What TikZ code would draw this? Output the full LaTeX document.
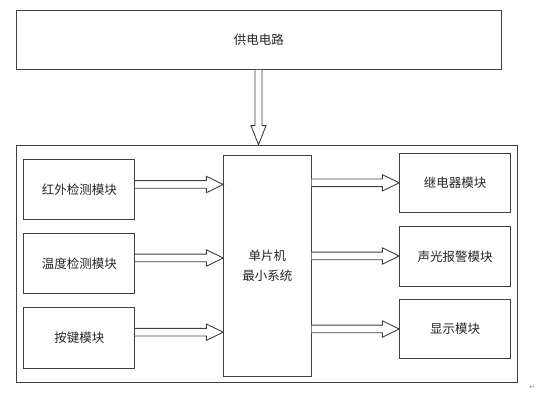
\documentclass[tikz,border=0pt]{standalone}
\usepackage{fontspec}
\newfontfamily\cjk{Noto Sans CJK SC}
\newfontfamily\dejavu{DejaVu Sans}
\usetikzlibrary{calc}
\tikzset{
  boxline/.style={draw=black!75, line width=0.9pt},
  blk/.style={boxline, fill=white, inner sep=0pt, font=\cjk\fontsize{12.5}{20}\selectfont, text=black!85},
  arr/.style={draw=black!75, line width=0.9pt, fill=white, line join=miter},
}
\newcommand\harrow[2]{%
  \draw[arr] let \p1=(#1), \p2=(#2) in
    (\x1,\y1+3.8pt) -- (\x2-17pt,\y1+3.8pt) -- (\x2-17pt,\y1+8.2pt) -- (\x2,\y1)
    -- (\x2-17pt,\y1-8.2pt) -- (\x2-17pt,\y1-3.8pt) -- (\x1,\y1-3.8pt);}
\begin{document}
\begin{tikzpicture}[x=1pt,y=-1pt]
\useasboundingbox (0,0) rectangle (539,393);
% outer frame and power box
\node[blk, minimum width=485pt, minimum height=59pt, anchor=north west] (pwr) at (16,10) {供电电路};
\node[boxline, minimum width=500.7pt, minimum height=237.6pt, anchor=north west, inner sep=0pt] (frame) at (16,144.7) {};
% left modules
\node[blk, minimum width=111pt, minimum height=60pt, anchor=north west] (ir) at (23.3,159.3) {红外检测模块};
\node[blk, minimum width=111pt, minimum height=60pt, anchor=north west] (tmp) at (23.3,233.3) {温度检测模块};
\node[blk, minimum width=111pt, minimum height=60pt, anchor=north west] (key) at (23.3,307.5) {按键模块};
% MCU
\node[blk, minimum width=87.4pt, minimum height=221.3pt, anchor=north west, align=center] (mcu) at (223.3,154.7) {单片机\\最小系统};
% right modules
\node[blk, minimum width=110.7pt, minimum height=59.6pt, anchor=north west] (rel) at (399.3,152.7) {继电器模块};
\node[blk, minimum width=110.7pt, minimum height=60pt, anchor=north west] (alm) at (399.3,226) {声光报警模块};
\node[blk, minimum width=110.7pt, minimum height=59.3pt, anchor=north west] (dsp) at (399.3,299) {显示模块};
% arrow anchor coordinates
\coordinate (a1s) at (ir.east |- 0,184.5);  \coordinate (a1e) at (mcu.west |- 0,184.5);
\coordinate (a2s) at (tmp.east |- 0,258);   \coordinate (a2e) at (mcu.west |- 0,258);
\coordinate (a3s) at (key.east |- 0,332.2); \coordinate (a3e) at (mcu.west |- 0,332.2);
\coordinate (b1s) at (mcu.east |- 0,182.8); \coordinate (b1e) at (rel.west |- 0,182.8);
\coordinate (b2s) at (mcu.east |- 0,256);   \coordinate (b2e) at (alm.west |- 0,256);
\coordinate (b3s) at (mcu.east |- 0,329);   \coordinate (b3e) at (dsp.west |- 0,329);
\harrow{a1s}{a1e}
\harrow{a2s}{a2e}
\harrow{a3s}{a3e}
\harrow{b1s}{b1e}
\harrow{b2s}{b2e}
\harrow{b3s}{b3e}
% down arrow from power to frame
\coordinate (ds) at (pwr.south -| 258.5,0);
\coordinate (de) at (frame.north -| 258.5,0);
\draw[arr] let \p1=(ds), \p2=(de) in
  (\x1-3.5pt,\y1) -- (\x1-3.5pt,\y2+19pt) -- (\x1-7.5pt,\y2+19pt) -- (\x1,\y2)
  -- (\x1+7.5pt,\y2+19pt) -- (\x1+3.5pt,\y2+19pt) -- (\x1+3.5pt,\y1);
% paragraph mark
\node[text=black!45, font=\dejavu\fontsize{7}{8}\selectfont, inner sep=0pt] (pm) at (532,387) {↵};
\end{tikzpicture}
\end{document}
